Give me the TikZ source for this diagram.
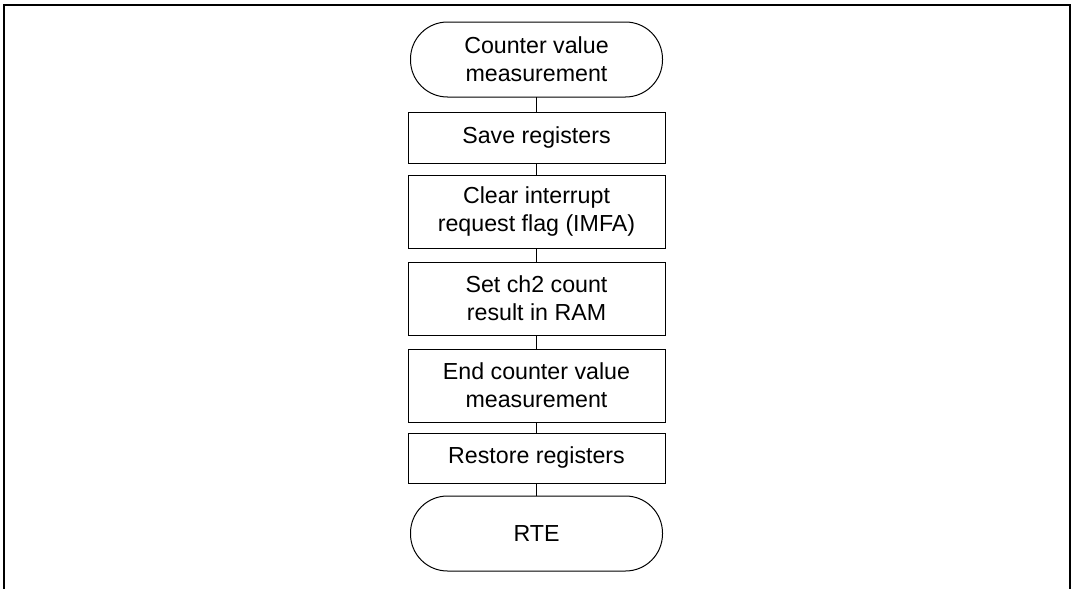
\documentclass[tikz,border=0pt]{standalone}
\usepackage{fontspec}
\setmainfont{Liberation Sans}
\usetikzlibrary{positioning}
\begin{document}
\begin{tikzpicture}[
  block/.style={rectangle, draw, line width=0.5pt, minimum width=128.5pt, minimum height=36.5pt, align=center, inner sep=0pt, outer sep=0pt},
  term/.style={rectangle, draw, line width=0.5pt, rounded corners=18.5pt, minimum width=126pt, minimum height=37.5pt, align=center, inner sep=0pt, outer sep=0pt},
  node distance=6.5pt,
  font=\fontsize{11.6pt}{14pt}\selectfont
]
\useasboundingbox (0,0) rectangle (536.5pt,-294.5pt);
\draw[line width=1pt] (2pt,-294.5pt) -- (2pt,-2.5pt) -- (535pt,-2.5pt) -- (535pt,-294.5pt);

\node[term] (start) at (268.25pt,-29.75pt) {Counter value\\measurement};
\node[block, below=7.5pt of start, minimum height=25.5pt] (save) {Save registers};
\node[block, below=6pt of save] (clear) {Clear interrupt\\request flag (IMFA)};
\node[block, below=7pt of clear] (setram) {Set ch2 count\\result in RAM};
\node[block, below=7pt of setram] (endmeas) {End counter value\\measurement};
\node[block, below=5.5pt of endmeas, minimum height=25pt] (restore) {Restore registers};
\node[term, below=of restore] (rte) {RTE};

\draw[line width=0.5pt] (start) -- (save);
\draw[line width=0.5pt] (save) -- (clear);
\draw[line width=0.5pt] (clear) -- (setram);
\draw[line width=0.5pt] (setram) -- (endmeas);
\draw[line width=0.5pt] (endmeas) -- (restore);
\draw[line width=0.5pt] (restore) -- (rte);
\end{tikzpicture}
\end{document}
